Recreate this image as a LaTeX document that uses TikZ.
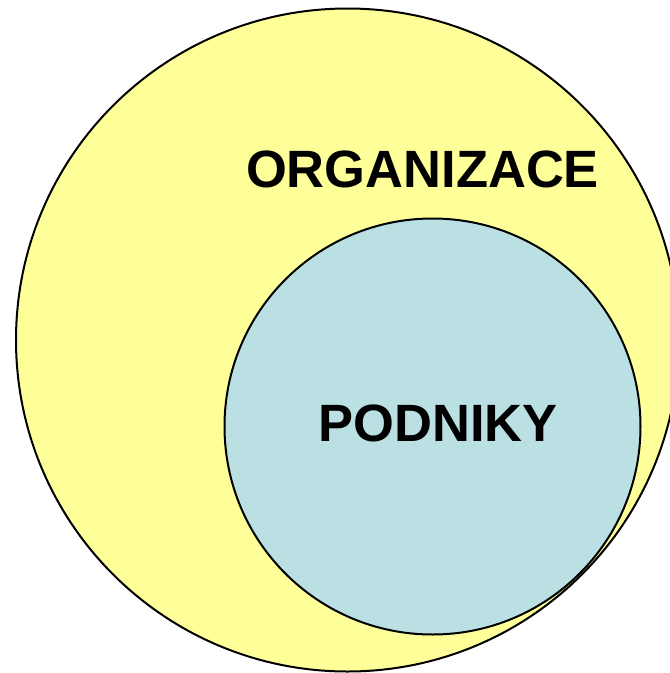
\documentclass[tikz,border=0pt]{standalone}
\usepackage{fontspec}
\setmainfont{Liberation Sans}
\definecolor{orgyellow}{HTML}{FFFF99}
\definecolor{podblue}{HTML}{BBE0E3}
\tikzset{
  setcircle/.style={draw=black, line width=2pt},
  setlabel/.style={font=\fontsize{52.5}{60}\selectfont\bfseries, inner sep=0pt}
}

\begin{document}
\begin{tikzpicture}[x=1pt,y=-1pt]
            \useasboundingbox (0,0) rectangle (670,673);
            \clip (0,0) rectangle (670,673);
            
            \coordinate (O) at (347.5,340);
            \coordinate (P) at (432.5,426.5);
            
            \draw[setcircle, fill=orgyellow] (O) circle[radius=331.5];
            \draw[setcircle, fill=podblue] (P) circle[radius=208];
            
            \node[setlabel] (org) at (422.5,169) {ORGANIZACE};
            \node[setlabel] (pod) at (438,423) {PODNIKY};
        \end{tikzpicture}
\end{document}
